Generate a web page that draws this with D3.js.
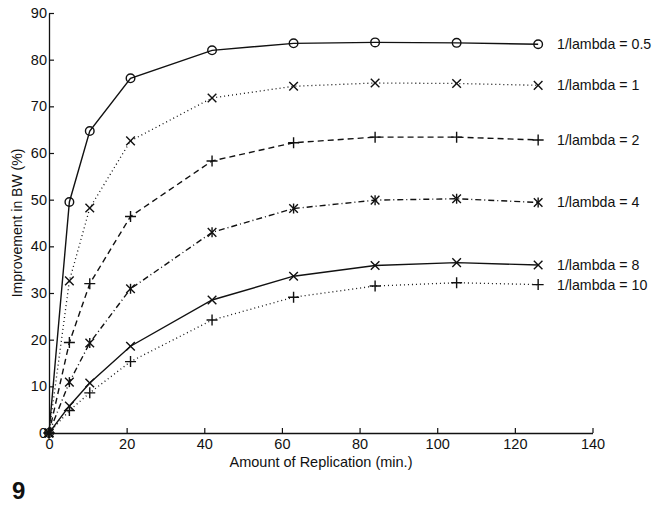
<!DOCTYPE html>
<html>
<head>
<meta charset="utf-8">
<script src="https://cdn.jsdelivr.net/npm/d3@7"></script>
<style>
  body { margin: 0; background: #fff; }
  text { font-family: "Liberation Sans", Arial, sans-serif; fill: #111; }
</style>
</head>
<body>
<div id="graph"></div>
<script>
var width = 664;
var height = 518;

// replication amounts (min.)
var replication = [0, 5.25, 10.5, 21, 42, 63, 84, 105, 126];

// improvement in BW (%) for each 1/lambda
var lambda05 = [0, 49.5, 64.7, 76.0, 82.0, 83.5, 83.7, 83.6, 83.3];
var lambda1  = [0, 32.6, 48.2, 62.6, 71.8, 74.3, 75.0, 74.9, 74.5];
var lambda2  = [0, 19.4, 32.0, 46.4, 58.3, 62.2, 63.4, 63.4, 62.8];
var lambda4  = [0, 10.9, 19.3, 30.9, 43.0, 48.1, 49.9, 50.2, 49.4];
var lambda8  = [0, 5.8, 10.7, 18.6, 28.5, 33.6, 35.9, 36.5, 36.0];
var lambda10 = [0, 4.8, 8.6, 15.3, 24.2, 29.1, 31.5, 32.2, 31.8];

var seriesNames = ["1/lambda = 0.5", "1/lambda = 1", "1/lambda = 2", "1/lambda = 4", "1/lambda = 8", "1/lambda = 10"];
var seriesValues = [lambda05, lambda1, lambda2, lambda4, lambda8, lambda10];
var seriesMarkers = ["circle", "x", "plus", "star", "x", "plus"];
var seriesDash = [null, "1,3", "6,4", "6,3,1,3", null, "1,3"];

var xTicks = [0, 20, 40, 60, 80, 100, 120, 140];
var yTicks = [0, 10, 20, 30, 40, 50, 60, 70, 80, 90];

var svg = d3.select("#graph")
    .append("svg")
    .attr("width", width)
    .attr("height", height);

var x = d3.scaleLinear().domain([0, 140]).range([49, 592.5]);
var y = d3.scaleLinear().domain([0, 90]).range([433, 13]);

// axes, ticks pointing inward
var xAxis = svg.append("g")
    .attr("transform", "translate(0," + y(0) + ")")
    .call(d3.axisBottom(x).tickValues(xTicks).tickSizeInner(-5).tickSizeOuter(0).tickPadding(6));
var yAxis = svg.append("g")
    .attr("transform", "translate(" + x(0) + ",0)")
    .call(d3.axisLeft(y).tickValues(yTicks).tickSizeInner(-5).tickSizeOuter(0).tickPadding(4));

[xAxis, yAxis].forEach(function(a) {
  a.select(".domain").attr("stroke", "#111").attr("stroke-width", 1.3);
  a.selectAll(".tick line").attr("stroke", "#111").attr("stroke-width", 1.2);
  a.selectAll(".tick text")
      .attr("font-size", 14.5)
      .attr("font-family", "Liberation Sans, Arial, sans-serif")
      .attr("fill", "#111");
});
yAxis.selectAll(".tick text").attr("dx", 2);

var line = d3.line()
    .x(function(d, i) { return x(replication[i]); })
    .y(function(d) { return y(d); });

seriesValues.forEach(function(vals, s) {
  svg.append("path")
      .datum(vals)
      .attr("d", line)
      .attr("fill", "none")
      .attr("stroke", "#111")
      .attr("stroke-width", seriesDash[s] === "1,3" ? 1.3 : 1.4)
      .attr("stroke-dasharray", seriesDash[s]);

  var marks = svg.append("g").selectAll("g")
      .data(vals)
      .enter().append("g")
      .attr("transform", function(d, i) { return "translate(" + x(replication[i]) + "," + y(d) + ")"; })
      .attr("stroke", "#111")
      .attr("stroke-width", 1.4)
      .attr("fill", "none");

  var m = seriesMarkers[s];
  if (m === "circle") {
    marks.append("circle").attr("r", 4.3);
  }
  if (m === "x" || m === "star") {
    marks.append("path").attr("d", "M-4.3,-4.3L4.3,4.3M-4.3,4.3L4.3,-4.3");
  }
  if (m === "plus" || m === "star") {
    marks.append("path").attr("d", m === "star" ? "M0,-5L0,5" : "M-5.5,0L5.5,0M0,-5.5L0,5.5");
  }

  var last = vals[vals.length - 1];
  svg.append("text")
      .attr("x", 557)
      .attr("y", y(last) + 5)
      .attr("font-size", 14.2)
      .text(seriesNames[s]);
});

svg.append("text")
    .attr("x", 321)
    .attr("y", 467)
    .attr("text-anchor", "middle")
    .attr("font-size", 14.5)
    .text("Amount of Replication (min.)");

svg.append("text")
    .attr("transform", "translate(22," + y(45) + ") rotate(-90)")
    .attr("text-anchor", "middle")
    .attr("font-size", 14)
    .text("Improvement in BW (%)");

svg.append("text")
    .attr("x", 12)
    .attr("y", 499)
    .attr("font-size", 24)
    .attr("font-weight", "bold")
    .text("9");
</script>
</body>
</html>
